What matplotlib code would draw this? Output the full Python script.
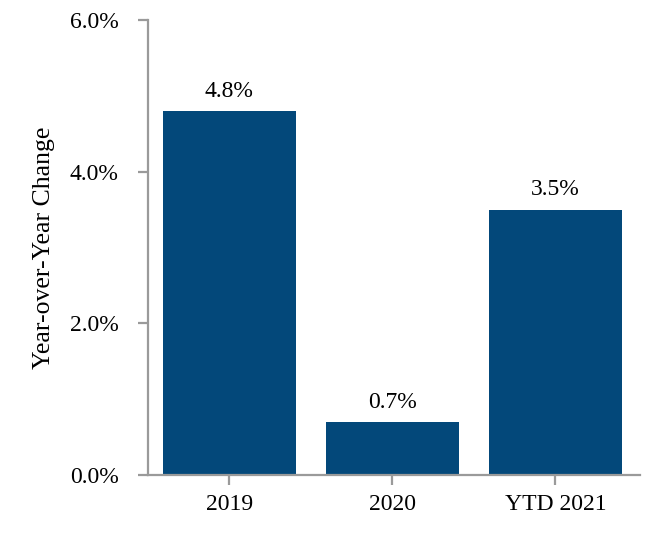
import matplotlib
matplotlib.use("Agg")
import matplotlib.pyplot as plt
from matplotlib.ticker import FuncFormatter

# Data
categories = ["2019", "2020", "YTD 2021"]
values = [4.8, 0.7, 3.5]
labels = ["4.8%", "0.7%", "3.5%"]

plt.rcParams['font.family'] = ['Liberation Serif', 'DejaVu Serif']

fig = plt.figure(figsize=(6.6, 5.38), dpi=100)
ax = fig.add_axes([0.224, 0.117, 0.746, 0.846])

bar_color = "#03487A"
axis_color = "#9a9a9a"

bars = ax.bar(range(len(categories)), values, width=0.82, color=bar_color)

for b, lab in zip(bars, labels):
    ax.text(b.get_x() + b.get_width() / 2, b.get_height() + 0.12, lab,
            ha='center', va='bottom', fontsize=17)

ax.set_xlim(-0.5, 2.52)
ax.set_ylim(0, 6)
ax.set_yticks([0, 2, 4, 6])
ax.yaxis.set_major_formatter(FuncFormatter(lambda v, p: f"{v:.1f}%"))
ax.set_xticks(range(len(categories)))
ax.set_xticklabels(categories)

for side in ['top', 'right']:
    ax.spines[side].set_visible(False)
for side in ['left', 'bottom']:
    ax.spines[side].set_color(axis_color)
    ax.spines[side].set_linewidth(1.6)

ax.tick_params(axis='both', colors=axis_color, labelcolor='black',
               labelsize=17, length=7, width=1.6)
ax.tick_params(axis='y', pad=14)
ax.tick_params(axis='x', pad=7)

ax.set_ylabel("Year-over-Year Change", fontsize=18.5, labelpad=11)

fig.savefig("out.png", dpi=100)
